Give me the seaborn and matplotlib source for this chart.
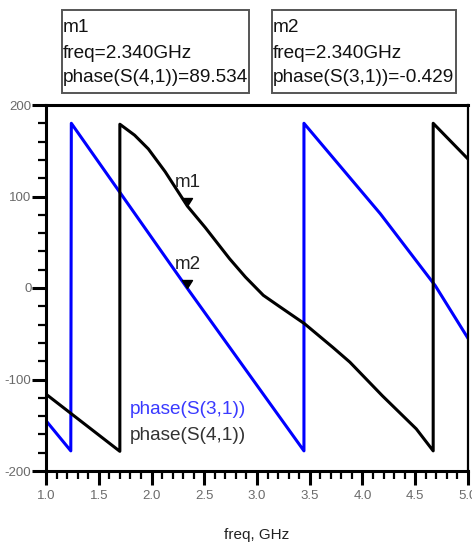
import matplotlib
matplotlib.use("Agg")
import matplotlib.pyplot as plt
import pandas as pd
import seaborn as sns
from matplotlib.patches import Rectangle
from matplotlib.path import Path
from matplotlib.ticker import MultipleLocator, FormatStrFormatter

sns.set_theme(style="white")
plt.rcParams["font.family"] = ["Liberation Sans", "DejaVu Sans"]

# Phase traces (degrees, wrapped to +/-180) versus frequency (GHz)
freq_s31 = [1.0, 1.235, 1.24, 2.34, 3.445, 3.445, 4.17, 4.69, 5.0]
phase_s31 = [-145, -178, 180, -0.429, -178, 180, 81, 2.5, -55]

freq_s41 = [1.0, 1.70, 1.70, 1.84, 1.97, 2.13, 2.34, 2.51, 2.74, 2.89,
            3.06, 3.21, 3.45, 3.72, 3.88, 4.19, 4.51, 4.67, 4.67, 5.0]
phase_s41 = [-116, -178.5, 179, 167, 152, 127, 89.534, 66, 32, 12,
             -8, -20, -39, -65, -81, -118, -154, -178, 180, 141]

# Markers
marker_names = ["m1", "m2"]
marker_freq = [2.34, 2.34]
marker_phase = [89.534, -0.429]
marker_trace = ["S(4,1)", "S(3,1)"]

trace_names = ["phase(S(3,1))", "phase(S(4,1))"]
trace_colors = ["#0000ff", "#000000"]
legend_colors = ["#3a3aff", "#333333"]

df = pd.concat([
    pd.DataFrame({"freq": freq_s31, "phase": phase_s31, "trace": trace_names[0]}),
    pd.DataFrame({"freq": freq_s41, "phase": phase_s41, "trace": trace_names[1]}),
], ignore_index=True)

W, H = 472, 546
fig = plt.figure(figsize=(W / 100, H / 100), dpi=100)
ax_l, ax_r, ax_t, ax_b = 46, 468, 105, 471
ax = fig.add_axes([ax_l / W, 1 - ax_b / H, (ax_r - ax_l) / W, (ax_b - ax_t) / H])

sns.lineplot(data=df, x="freq", y="phase", hue="trace",
             palette=dict(zip(trace_names, trace_colors)),
             sort=False, estimator=None, linewidth=2.2, legend=False, ax=ax)

# Downward triangle whose tip sits on the data point
tri = Path([(-0.5, 0.8), (0.5, 0.8), (0.0, 0.0), (-0.5, 0.8)],
           [Path.MOVETO, Path.LINETO, Path.LINETO, Path.CLOSEPOLY])
ax.plot(marker_freq, marker_phase, ls="none", marker=tri, ms=11.5,
        color="black", zorder=5)
for name, fx, py in zip(marker_names, marker_freq, marker_phase):
    ax.annotate(name, (fx, py), xytext=(0, 17), textcoords="offset points",
                ha="center", va="center", fontsize=13.5, color="#222222")

ax.set_xlim(1.0, 5.0)
ax.set_ylim(-200, 200)
ax.xaxis.set_major_locator(MultipleLocator(0.5))
ax.xaxis.set_minor_locator(MultipleLocator(0.1))
ax.yaxis.set_major_locator(MultipleLocator(100))
ax.yaxis.set_minor_locator(MultipleLocator(20))
ax.xaxis.set_major_formatter(FormatStrFormatter("%.1f"))
ax.yaxis.set_major_formatter(FormatStrFormatter("%d"))

ax.tick_params(which="major", direction="out", length=10, width=2.2,
               color="black", labelsize=9.5, labelcolor="#6a6a6a",
               bottom=True, left=True, top=False, right=False)
ax.tick_params(axis="y", which="major", pad=0.5)
ax.tick_params(axis="x", which="major", pad=4)
ax.tick_params(which="minor", direction="out", length=5.5, width=1.6,
               color="black", bottom=True, left=True, top=False, right=False)

for side, sp in ax.spines.items():
    sp.set_visible(True)
    sp.set_color("black")
    sp.set_linewidth(2.2 if side != "right" else 1.6)

ax.set_xlabel("freq, GHz", fontsize=11, color="#222222", va="center")
ax.xaxis.set_label_coords(0.5, -(535 - ax_b) / (ax_b - ax_t))
ax.set_ylabel("")

# Trace names inside the plot
for i, (name, col) in enumerate(zip(trace_names, legend_colors)):
    ax.text((130 - ax_l) / (ax_r - ax_l), (ax_b - (410 + 26 * i)) / (ax_b - ax_t),
            name, transform=ax.transAxes, ha="left", va="center",
            fontsize=13.7, color=col)

# Marker readout boxes above the plot
box_x = [(62, 249), (272, 456)]
for (x0, x1), name, fx, py, tr in zip(box_x, marker_names, marker_freq,
                                        marker_phase, marker_trace):
    fig.patches.append(Rectangle((x0 / W, 1 - 93 / H), (x1 - x0) / W, 83 / H,
                                 transform=fig.transFigure, fill=False,
                                 ec="#555555", lw=1.4))
    lines = [name, f"freq={fx:.3f}GHz", f"phase({tr})={py:.3f}"]
    for j, line in enumerate(lines):
        fig.text((x0 + 1) / W, 1 - (28 + 25 * j) / H, line, ha="left",
                 va="center", fontsize=13.7, color="#111111")

fig.savefig("out.png", dpi=100)
